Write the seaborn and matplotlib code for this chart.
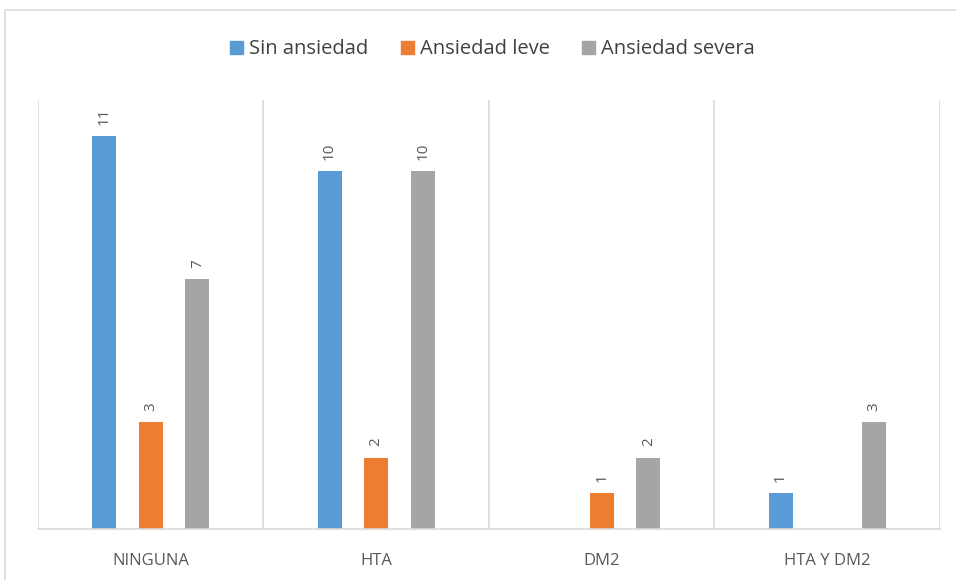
import matplotlib
matplotlib.use("Agg")
import matplotlib.pyplot as plt
from matplotlib.patches import Rectangle
import seaborn as sns
import pandas as pd

categories = ["NINGUNA", "HTA", "DM2", "HTA Y DM2"]
series = ["Sin ansiedad", "Ansiedad leve", "Ansiedad severa"]
sin_ansiedad = [11, 10, 0, 1]
ansiedad_leve = [3, 2, 1, 0]
ansiedad_severa = [7, 10, 2, 3]
colors = ["#5B9BD5", "#ED7D31", "#A5A5A5"]

rows = []
for name, vals in zip(series, [sin_ansiedad, ansiedad_leve, ansiedad_severa]):
    for cat, v in zip(categories, vals):
        rows.append({"Comorbilidad": cat, "Grupo": name, "Pacientes": v})
df = pd.DataFrame(rows)

sns.set_theme(style="white")
plt.rcParams["font.family"] = ["Open Sans", "DejaVu Sans"]

fig = plt.figure(figsize=(9.56, 5.8), dpi=100)
ax = fig.add_axes([0.0397, 0.0879, 0.9435, 0.7397])

sns.barplot(data=df, x="Comorbilidad", y="Pacientes", hue="Grupo",
            order=categories, hue_order=series, palette=colors,
            width=0.62, gap=0.487, ax=ax, legend=False, saturation=1,
            edgecolor="none", linewidth=0)

ax.set_xlim(-0.5, len(categories) - 0.5)
ax.set_ylim(0, 12)
ax.set_xlabel("")
ax.set_ylabel("")
ax.set_yticks([])
ax.tick_params(axis="x", length=0, pad=17, labelsize=12, labelcolor="#595959")
for s in ["top", "right", "left"]:
    ax.spines[s].set_visible(False)
ax.spines["bottom"].set_color("#D9D9D9")
ax.spines["bottom"].set_linewidth(1.2)

# vertical separators between categories
for xs in [i - 0.5 for i in range(len(categories) + 1)]:
    ax.axvline(xs, color="#D9D9D9", linewidth=1.2, zorder=0)

# rotated value labels above each bar
for container in ax.containers:
    for bar in container:
        h = bar.get_height()
        if h <= 0:
            continue
        ax.annotate(f"{int(h)}", (bar.get_x() + bar.get_width() / 2, h),
                    xytext=(0, 8), textcoords="offset points",
                    rotation=90, ha="center", va="bottom",
                    fontsize=11, color="#595959")

handles = [Rectangle((0, 0), 1, 1, color=c) for c in colors]
fig.legend(handles, series, loc="center", bbox_to_anchor=(0.515, 0.915),
           ncol=3, frameon=False, fontsize=14.5, handlelength=0.65,
           handleheight=0.65, handletextpad=0.3, columnspacing=1.6,
           labelcolor="#404040")

# outer chart border
fig.patches.append(Rectangle((5 / 956, -0.05), 1.0, 1 - 10 / 580 + 0.05,
                             transform=fig.transFigure, fill=False,
                             edgecolor="#D9D9D9", linewidth=1.2))

fig.savefig("out.png", dpi=100)
